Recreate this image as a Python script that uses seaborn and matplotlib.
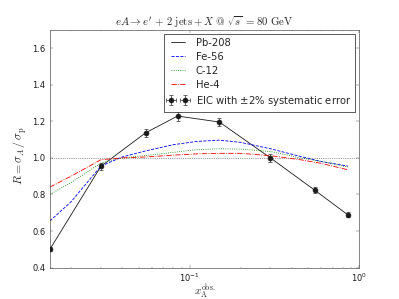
import matplotlib
matplotlib.use("Agg")
import matplotlib.pyplot as plt
from matplotlib.lines import Line2D
import numpy as np
import pandas as pd
import seaborn as sns

# ---------------- data ----------------
x_data = [0.015, 0.03, 0.055, 0.085, 0.15, 0.30, 0.55, 0.86]
pb208 = [0.50, 0.954, 1.137, 1.229, 1.196, 1.00, 0.822, 0.688]

x_curve = [0.015, 0.02, 0.03, 0.04, 0.055, 0.08, 0.11, 0.15, 0.2, 0.3, 0.45, 0.6, 0.86]
fe56 = [0.655, 0.76, 0.955, 1.005, 1.038, 1.072, 1.09, 1.097, 1.085, 1.05, 1.008, 0.98, 0.955]
c12 = [0.80, 0.865, 0.972, 1.0, 1.013, 1.03, 1.045, 1.05, 1.048, 1.035, 1.0, 0.98, 0.95]
he4 = [0.84, 0.90, 0.99, 1.0, 1.005, 1.015, 1.022, 1.025, 1.025, 1.012, 0.99, 0.97, 0.935]

sys_err = 0.02
reference_level = 1.0

title = r"$eA \rightarrow e' \,+\, 2\ \mathrm{jets} + X\ @\ \sqrt{s}\ {=}80\ \mathrm{GeV}$"
xlabel = r"$x_{\mathrm{A}}^{\mathrm{obs.}}$"
ylabel = r"$R=\sigma_A\,/\,\sigma_{\mathrm{p}}$"
labels = ["Pb-208", "Fe-56", "C-12", "He-4"]
err_label = r"EIC with $\mathdefault{\pm 2\%}$ systematic error"
yticks = [0.4, 0.6, 0.8, 1.0, 1.2, 1.4, 1.6]

colors = ["k", "blue", "green", "red"]
styles = ["-", "--", ":", "-."]

# ---------------- style ----------------
sns.set_theme(style="white")
plt.rcParams.update({
    "font.family": ["DejaVu Sans"],
    "font.size": 12,
    "mathtext.fontset": "cm",
    "axes.linewidth": 1.0,
    "axes.edgecolor": "#555555",
    "xtick.direction": "in",
    "ytick.direction": "in",
    "xtick.top": True,
    "ytick.right": True,
    "xtick.bottom": True,
    "ytick.left": True,
    "xtick.major.size": 4,
    "xtick.minor.size": 2,
    "ytick.major.size": 4,
    "ytick.minor.size": 2,
    "xtick.major.width": 0.5,
    "ytick.major.width": 0.5,
    "xtick.minor.width": 0.5,
    "xtick.color": "k",
    "ytick.color": "k",
    "xtick.labelsize": 12,
    "ytick.labelsize": 12,
    "xtick.major.pad": 6,
    "ytick.major.pad": 6,
})

fig = plt.figure(figsize=(7.98, 5.98), dpi=50)
ax = fig.add_axes([0.125, 0.105, 0.775, 0.795])

ax.axhline(reference_level, color="#444444", ls=":", lw=1.0, zorder=1)

df_c = pd.DataFrame({"x": x_curve, "fe": fe56, "c": c12, "he": he4})
df_d = pd.DataFrame({"x": x_data, "pb": pb208})

sns.lineplot(data=df_d, x="x", y="pb", ax=ax, color=colors[0], lw=1.2, ls=styles[0], sort=False)
sns.lineplot(data=df_c, x="x", y="fe", ax=ax, color=colors[1], lw=1.2, ls=styles[1], sort=False)
sns.lineplot(data=df_c, x="x", y="c", ax=ax, color=colors[2], lw=1.2, ls=styles[2], sort=False)
sns.lineplot(data=df_c, x="x", y="he", ax=ax, color=colors[3], lw=1.2, ls=styles[3], sort=False)

yerr = np.array(pb208) * sys_err
eb = ax.errorbar(x_data, pb208, yerr=yerr, xerr=np.zeros(len(x_data)), fmt="o", color="k",
                 ms=7, ecolor="#333333", elinewidth=1.0, capsize=3, capthick=1.0, zorder=5)

handles = [Line2D([], [], color=c, ls=s, lw=1.2) for c, s in zip(colors, styles)] + [eb]

ax.set_xscale("log")
ax.set_xlim(x_data[0], 1.0)
ax.set_ylim(0.4, 1.7)
ax.set_yticks(yticks)
ax.set_yticklabels([f"{v:.1f}" for v in yticks])
ax.set_title(title, fontsize=15.5, pad=4)
ax.set_xlabel(xlabel, fontsize=16, labelpad=-2)
ax.set_ylabel(ylabel, fontsize=17)
ax.yaxis.set_label_coords(-0.068, 0.47)

leg = ax.legend(handles, labels + [err_label], loc="upper right", numpoints=2, fontsize=14.4,
                frameon=True, fancybox=False, edgecolor="k", framealpha=1.0,
                borderaxespad=0.4, handlelength=2.0, handletextpad=0.8,
                labelspacing=0.4, borderpad=0.4)
leg.get_frame().set_linewidth(1.0)

fig.savefig("out.png", dpi=50, facecolor="white")
